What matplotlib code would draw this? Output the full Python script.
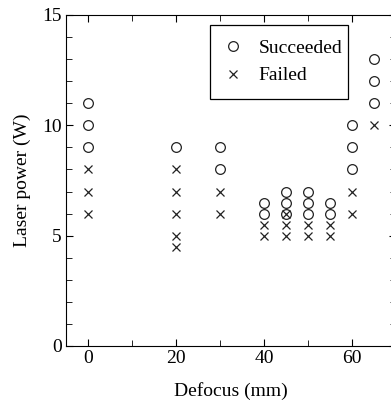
import matplotlib
matplotlib.use("Agg")
import matplotlib.pyplot as plt
from matplotlib.patches import Rectangle
from matplotlib.ticker import MultipleLocator

plt.rcParams['font.family'] = ['Liberation Serif', 'DejaVu Serif']
plt.rcParams['font.size'] = 14

# Succeeded runs (defocus mm, laser power W)
ok_defocus = [0, 0, 0, 20, 30, 30, 40, 40, 45, 45, 45, 50, 50, 50, 55, 55, 60, 60, 60, 65, 65, 65]
ok_power = [11, 10, 9, 9, 9, 8, 6.5, 6, 7, 6.5, 6, 7, 6.5, 6, 6.5, 6, 10, 9, 8, 13, 12, 11]

# Failed runs
fail_defocus = [0, 0, 0, 20, 20, 20, 20, 20, 30, 30, 40, 40, 45, 45, 45, 50, 50, 55, 55, 60, 60, 65]
fail_power = [8, 7, 6, 8, 7, 6, 5, 4.5, 7, 6, 5.5, 5, 6, 5.5, 5, 5.5, 5, 5.5, 5, 7, 6, 10]

fig = plt.figure(figsize=(3.91, 4.01), dpi=100)
ax = fig.add_axes([0.1688, 0.1372, 0.844, 0.8254])

ax.plot(ok_defocus, ok_power, 'o', mfc='none', mec='#222222', mew=0.9, ms=7,
        label='Succeeded')
ax.plot(fail_defocus, fail_power, 'x', color='#222222', mew=0.9, ms=6,
        label='Failed')

ax.set_xlim(-5, 70)
ax.set_ylim(0, 15)
ax.xaxis.set_major_locator(MultipleLocator(20))
ax.xaxis.set_minor_locator(MultipleLocator(10))
ax.yaxis.set_major_locator(MultipleLocator(5))
ax.yaxis.set_minor_locator(MultipleLocator(1))
ax.tick_params(which='both', direction='in', top=True, right=True, labelsize=14,
               pad=3)
ax.tick_params(which='major', length=5)
ax.tick_params(which='minor', length=4)

ax.set_xlabel('Defocus (mm)', fontsize=14, labelpad=11)
ax.set_ylabel('Laser power (W)', fontsize=14, labelpad=8)

# legend without frame, box drawn separately (tighter on the right)
leg = ax.legend(loc='upper right', bbox_to_anchor=(0.882, 0.97), fontsize=14,
                frameon=False, borderaxespad=0, handlelength=1.0,
                handletextpad=0.8, borderpad=0.75, labelspacing=0.5)
ax.add_patch(Rectangle((0.4364, 0.7462), 0.4181, 0.2238, transform=ax.transAxes,
                       fill=False, edgecolor='black', linewidth=0.9, zorder=5))

fig.savefig('out.png', dpi=100)
